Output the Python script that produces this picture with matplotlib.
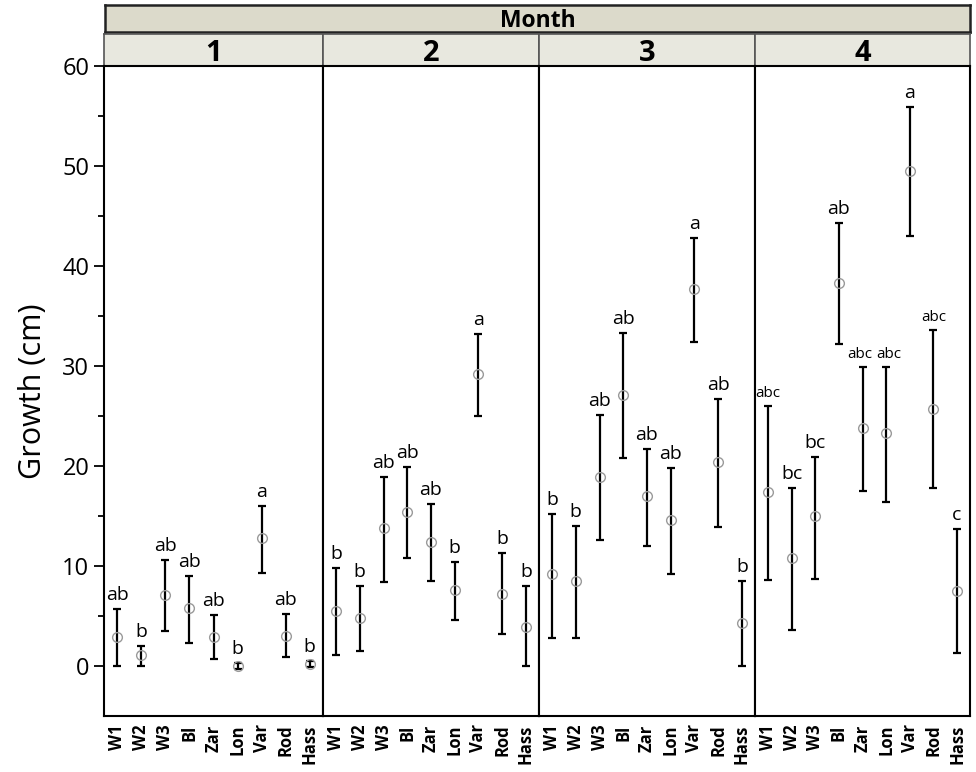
import numpy as np
import matplotlib
matplotlib.use("Agg")
import matplotlib.pyplot as plt

plt.rcParams['font.family'] = ['Open Sans', 'DejaVu Sans']

cultivars = ["W1", "W2", "W3", "Bl", "Zar", "Lon", "Var", "Rod", "Hass"]
months = ["1", "2", "3", "4"]

# mean growth (cm) per month, per cultivar
mean_m1 = [2.9, 1.1, 7.1, 5.8, 2.9, 0.0, 12.8, 3.0, 0.2]
mean_m2 = [5.5, 4.8, 13.8, 15.4, 12.4, 7.6, 29.2, 7.2, 3.9]
mean_m3 = [9.2, 8.5, 18.9, 27.1, 17.0, 14.6, 37.7, 20.4, 4.3]
mean_m4 = [17.4, 10.8, 15.0, 38.3, 23.8, 23.3, 49.5, 25.7, 7.5]

low_m1 = [0.0, 0.0, 3.5, 2.3, 0.7, -0.3, 9.3, 0.9, -0.1]
low_m2 = [1.1, 1.5, 8.4, 10.8, 8.5, 4.6, 25.0, 3.2, 0.0]
low_m3 = [2.8, 2.8, 12.6, 20.8, 12.0, 9.2, 32.4, 13.9, 0.0]
low_m4 = [8.6, 3.6, 8.7, 32.2, 17.5, 16.4, 43.0, 17.8, 1.3]

up_m1 = [5.7, 2.0, 10.6, 9.0, 5.1, 0.3, 16.0, 5.2, 0.5]
up_m2 = [9.8, 8.0, 18.9, 19.9, 16.2, 10.4, 33.2, 11.3, 8.0]
up_m3 = [15.2, 14.0, 25.1, 33.3, 21.7, 19.8, 42.8, 26.7, 8.5]
up_m4 = [26.0, 17.8, 20.9, 44.3, 29.9, 29.9, 55.9, 33.6, 13.7]

letters_m1 = ["ab", "b", "ab", "ab", "ab", "b", "a", "ab", "b"]
letters_m2 = ["b", "b", "ab", "ab", "ab", "b", "a", "b", "b"]
letters_m3 = ["b", "b", "ab", "ab", "ab", "ab", "a", "ab", "b"]
letters_m4 = ["abc", "bc", "bc", "ab", "abc", "abc", "a", "abc", "c"]

means = [mean_m1, mean_m2, mean_m3, mean_m4]
lows = [low_m1, low_m2, low_m3, low_m4]
ups = [up_m1, up_m2, up_m3, up_m4]
letters = [letters_m1, letters_m2, letters_m3, letters_m4]

W, H = 976, 772
fig = plt.figure(figsize=(W / 100, H / 100), dpi=100)

# panel edges in pixels
edges = [104, 323, 539, 755, 970]
top, bottom = 66, 716


def frac(x0, y0, x1, y1):
    return [x0 / W, 1 - y1 / H, (x1 - x0) / W, (y1 - y0) / H]


# "Month" header band
hax = fig.add_axes(frac(105, 5, 970, 32))
hax.set_facecolor("#dcdacb")
hax.set_xticks([]); hax.set_yticks([])
for s in hax.spines.values():
    s.set_linewidth(1.8)
    s.set_color("#222222")
hax.text(0.5, 0.42, "Month", ha="center", va="center", fontsize=16.5,
         fontweight="bold", transform=hax.transAxes)

x = np.arange(len(cultivars))
for i, m in enumerate(months):
    # panel number header
    pax = fig.add_axes(frac(edges[i], 34, edges[i + 1], top))
    pax.set_facecolor("#e8e8df")
    pax.set_xticks([]); pax.set_yticks([])
    for s in pax.spines.values():
        s.set_linewidth(1.2)
        s.set_color("#555555")
    pax.text(0.5, 0.40, m, ha="center", va="center", fontsize=21,
             fontweight="bold", transform=pax.transAxes)

    ax = fig.add_axes(frac(edges[i], top, edges[i + 1], bottom))
    mu = np.array(means[i])
    lo = np.array(lows[i])
    hi = np.array(ups[i])
    ax.errorbar(x, mu, yerr=[mu - lo, hi - mu], fmt="none", ecolor="black",
                elinewidth=1.6, capsize=3, capthick=1.6, zorder=2)
    ax.plot(x, mu, "o", mfc="none", mec="#9a9a9a", ms=7, mew=1, zorder=3)
    for j, (xi, h, lab) in enumerate(zip(x, hi, letters[i])):
        fs = 11 if lab == "abc" else 14
        dx = 0.0
        # the two neighbouring "abc" labels are nudged apart in the original
        if i == 3 and cultivars[j] == "Zar":
            dx = -0.1
        elif i == 3 and cultivars[j] == "Lon":
            dx = 0.1
        ax.text(xi + dx, h + 0.5, lab, ha="center", va="bottom", fontsize=fs)

    ax.set_xlim(-0.55, 8.55)
    ax.set_ylim(-5, 60)
    ax.set_xticks(x)
    ax.set_xticklabels(cultivars, rotation=90, fontweight="bold", fontsize=12)
    ax.tick_params(axis="x", length=0, pad=6)
    for s in ax.spines.values():
        s.set_linewidth(1.5)
    if i == 0:
        ax.set_yticks(np.arange(0, 61, 10))
        ax.set_yticks(np.arange(5, 60, 10), minor=True)
        ax.tick_params(axis="y", which="major", length=7, width=1.3, labelsize=17)
        ax.tick_params(axis="y", which="minor", length=4, width=1.3)
        ax.set_ylabel("Growth (cm)", fontsize=22, labelpad=10)
    else:
        ax.set_yticks([])

fig.savefig("out.png", dpi=100)
